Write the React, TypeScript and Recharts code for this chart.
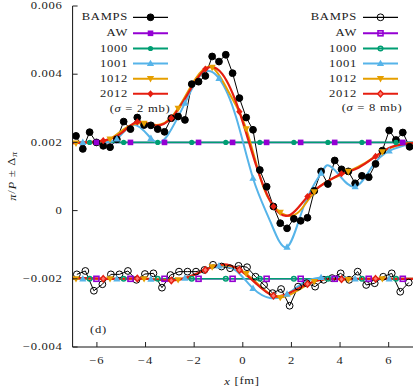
import React from 'react';
import { LineChart, Line, XAxis, YAxis } from 'recharts';

// BAMPS, sigma = 2 mb (shifted +0.002), bin centres
const bampsX2 = [-6.86, -6.58, -6.3, -6.02, -5.74, -5.46, -5.18, -4.9, -4.62, -4.34, -4.06, -3.78, -3.5, -3.22, -2.94, -2.66, -2.38, -2.1, -1.82, -1.54, -1.26, -0.98, -0.7, -0.42, -0.14, 0.14, 0.42, 0.7, 0.98, 1.26, 1.54, 1.82, 2.1, 2.38, 2.66, 2.94, 3.22, 3.5, 3.78, 4.06, 4.34, 4.62, 4.9, 5.18, 5.46, 5.74, 6.02, 6.3, 6.58, 6.86];
const bamps2 = [
  0.00219, 0.00181, 0.0023, 0.002, 0.0019, 0.00186, 0.00209, 0.00261, 0.00239, 0.00273,
  0.00251, 0.0025, 0.00239, 0.00231, 0.00271, 0.00276, 0.00266, 0.00371, 0.00378, 0.00395,
  0.00452, 0.00437, 0.00457, 0.00403, 0.0033, 0.00273, 0.00237, 0.00119, 0.0007, 0.00012,
  -0.00037, -0.00052, -0.00024, -0.0003, -0.00021, 0.00058, 0.00115, 0.00078, 0.00147, 0.00121,
  0.00115, 0.0008, 0.00102, 0.00098, 0.00137, 0.00176, 0.00235, 0.00207, 0.00229, 0.00187,
];

// BAMPS, sigma = 8 mb (shifted -0.002)
const bampsX8 = [-6.825, -6.475, -6.125, -5.775, -5.425, -5.075, -4.725, -4.375, -4.025, -3.675, -3.325, -2.975, -2.625, -2.275, -1.925, -1.575, -1.225, -0.875, -0.525, -0.175, 0.175, 0.525, 0.875, 1.225, 1.575, 1.925, 2.275, 2.625, 2.975, 3.325, 3.675, 4.025, 4.375, 4.725, 5.075, 5.425, 5.775, 6.125, 6.475, 6.825];
const bamps8 = [
  -0.00187, -0.00177, -0.00235, -0.00216, -0.00187, -0.00187, -0.00177, -0.00203, -0.00186, -0.00184,
  -0.00226, -0.00189, -0.00179, -0.00179, -0.00179, -0.00174, -0.00159, -0.00164, -0.00169, -0.00162,
  -0.00166, -0.00194, -0.00218, -0.00242, -0.0023, -0.00279, -0.00223, -0.00213, -0.00223, -0.00203,
  -0.00198, -0.00184, -0.00203, -0.00179, -0.00218, -0.00213, -0.00194, -0.00184, -0.00238, -0.00211,
];

const awX = [-7, -6.02, -4.62, -3.22, -1.82, -0.42, 0.98, 2.38, 3.78, 5.18, 6.58, 7];
const aw2 = [0.002, 0.002, 0.002, 0.002, 0.002, 0.002, 0.002, 0.002, 0.002, 0.002, 0.002, 0.002];
const aw8 = [-0.002, -0.002, -0.002, -0.002, -0.002, -0.002, -0.002, -0.002, -0.002, -0.002, -0.002, -0.002];

const m1000X = [-7, -6.3, -4.9, -3.5, -2.1, -0.7, 0.7, 2.1, 3.5, 4.9, 6.3, 7];
const m1000s2 = [0.002, 0.002, 0.002, 0.002, 0.002, 0.002, 0.002, 0.002, 0.002, 0.002, 0.002, 0.002];
const m1000s8 = [-0.002, -0.002, -0.002, -0.002, -0.002, -0.002, -0.002, -0.002, -0.002, -0.002, -0.002, -0.002];

const m1001X2 = [-7, -6.58, -5.88, -5.18, -4.48, -3.78, -3.43, -3.08, -2.38, -1.68, -0.98, -0.28, 0.42, 1.12, 1.82, 2.52, 3.22, 3.5, 3.92, 4.62, 5.32, 6.02, 7];
const m1001s2 = [0.002, 0.002, 0.00202, 0.0021, 0.00252, 0.00212, 0.002, 0.00222, 0.00315, 0.00402, 0.00388, 0.00275, 0.00095, -0.0003, -0.00107, 0.00015, 0.0011, 0.00133, 0.00108, 0.0007, 0.00129, 0.00175, 0.00198];
const m1001X8 = [-7, -6.58, -5.88, -5.18, -4.48, -3.78, -3.08, -2.38, -1.68, -0.98, -0.28, 0.42, 1.12, 1.82, 2.52, 3.22, 3.92, 4.62, 5.32, 6.02, 7];
const m1001s8 = [-0.002, -0.002, -0.002, -0.002, -0.002, -0.00201, -0.00204, -0.00198, -0.00178, -0.00162, -0.00176, -0.00228, -0.00256, -0.00245, -0.0021, -0.00196, -0.00195, -0.002, -0.00202, -0.002, -0.002];

const m1012X = [-7, -6.86, -6.16, -5.46, -4.76, -4.06, -3.36, -2.66, -1.96, -1.26, -0.56, 0.14, 0.84, 1.54, 2.24, 2.94, 3.64, 4.34, 5.04, 5.74, 6.44, 7];
const m1012s2 = [0.00198, 0.00198, 0.002, 0.0021, 0.00245, 0.00256, 0.00253, 0.003, 0.00385, 0.0042, 0.00345, 0.0024, 0.0007, -0.00005, -0.00008, 0.00055, 0.00092, 0.00115, 0.0014, 0.00172, 0.00193, 0.00198];
const m1012s8 = [-0.002, -0.002, -0.002, -0.002, -0.002, -0.002, -0.00202, -0.00203, -0.00188, -0.00165, -0.00162, -0.00185, -0.0023, -0.00255, -0.00235, -0.00208, -0.002, -0.00202, -0.002, -0.002, -0.002, -0.002];

const m2012X = [-7, -6.44, -5.74, -5.04, -4.34, -3.64, -2.94, -2.24, -1.54, -0.84, -0.14, 0.56, 1.26, 1.96, 2.66, 3.36, 4.06, 4.76, 5.46, 6.16, 7];
const m2012s2 = [0.00198, 0.002, 0.00205, 0.00225, 0.0026, 0.0025, 0.00271, 0.00345, 0.00415, 0.004, 0.0029, 0.0013, 0.00012, -0.00012, 0.00041, 0.0008, 0.00108, 0.00126, 0.00159, 0.00188, 0.00198];
const m2012s8 = [-0.00198, -0.00198, -0.002, -0.002, -0.00199, -0.00202, -0.00205, -0.00195, -0.00174, -0.00158, -0.00174, -0.00215, -0.0025, -0.0024, -0.00215, -0.00201, -0.00201, -0.002, -0.002, -0.002, -0.002];

const xTicks = [-6, -4, -2, 0, 2, 4, 6];
const yTicks = [-0.004, -0.002, 0, 0.002, 0.004, 0.006];

const C = {
  bamps: '#000000',
  aw: '#9400d3',
  m1000: '#009e73',
  m1001: '#56b4e9',
  m1012: '#e69f00',
  m2012: '#e51e10',
};

const FONT = "'Liberation Serif', 'Times New Roman', serif";
const SX = 1.2;
const LS = 0.6;

const pts = (xs: number[], ys: number[]) => xs.map((x, i) => ({ x, y: ys[i] }));

type Shape = 'circle' | 'dot' | 'square' | 'tri' | 'tridown' | 'diamond';

function marker(shape: Shape, color: string, filled: boolean, cx: number, cy: number, key?: string) {
  const fill = filled ? color : 'none';
  switch (shape) {
    case 'circle':
      return <circle key={key} cx={cx} cy={cy} r={3.4} fill={fill} stroke={color} strokeWidth={1} />;
    case 'dot':
      return filled
        ? <circle key={key} cx={cx} cy={cy} r={2.6} fill={color} />
        : <circle key={key} cx={cx} cy={cy} r={2.3} fill="none" stroke={color} strokeWidth={1.5} />;
    case 'square':
      return filled
        ? <rect key={key} x={cx - 2.8} y={cy - 2.8} width={5.6} height={5.6} fill={color} />
        : <rect key={key} x={cx - 2.5} y={cy - 2.5} width={5} height={5} fill="none" stroke={color} strokeWidth={1.6} />;
    case 'tri':
      return <polygon key={key} points={`${cx},${cy - 3.8} ${cx - 3.6},${cy + 2.6} ${cx + 3.6},${cy + 2.6}`} fill={color} />;
    case 'tridown':
      return <polygon key={key} points={`${cx},${cy + 3.8} ${cx - 3.6},${cy - 2.6} ${cx + 3.6},${cy - 2.6}`} fill={color} />;
    case 'diamond':
      return filled
        ? <polygon key={key} points={`${cx},${cy - 3.6} ${cx + 3.2},${cy} ${cx},${cy + 3.6} ${cx - 3.2},${cy}`} fill={color} />
        : <polygon key={key} points={`${cx},${cy - 3.2} ${cx + 2.8},${cy} ${cx},${cy + 3.2} ${cx - 2.8},${cy}`} fill="#ff7a6e" stroke={color} strokeWidth={1.4} />;
  }
}

// markers every 1.4 fm starting from `start`; null start = on every point
const makeDot = (shape: Shape, color: string, filled: boolean, start: number | null) => (props: any) => {
  const { cx, cy, index, payload } = props;
  const key = `d${index}`;
  if (cx == null || cy == null) return <g key={key} />;
  if (start !== null) {
    const k = (payload.x - start) / 1.4;
    if (Math.abs(k - Math.round(k)) > 0.02 || payload.x < -6.95 || payload.x > 6.95) return <g key={key} />;
  }
  return marker(shape, color, filled, cx, cy, key);
};

interface Series {
  data: { x: number; y: number }[];
  color: string;
  width: number;
  curve: 'linear' | 'natural';
  shape: Shape;
  filled: boolean;
  start: number | null;
}

const series: Series[] = [
  { data: pts(bampsX2, bamps2), color: C.bamps, width: 1, curve: 'linear', shape: 'circle', filled: true, start: null },
  { data: pts(bampsX8, bamps8), color: C.bamps, width: 1, curve: 'linear', shape: 'circle', filled: false, start: null },
  { data: pts(awX, aw2), color: C.aw, width: 1.5, curve: 'linear', shape: 'square', filled: true, start: -6.02 },
  { data: pts(awX, aw8), color: C.aw, width: 1.5, curve: 'linear', shape: 'square', filled: false, start: -6.02 },
  { data: pts(m1000X, m1000s2), color: C.m1000, width: 1.6, curve: 'linear', shape: 'dot', filled: true, start: -6.3 },
  { data: pts(m1000X, m1000s8), color: C.m1000, width: 1.6, curve: 'linear', shape: 'dot', filled: false, start: -6.3 },
  { data: pts(m1001X2, m1001s2), color: C.m1001, width: 2, curve: 'natural', shape: 'tri', filled: true, start: -5.18 },
  { data: pts(m1001X8, m1001s8), color: C.m1001, width: 2, curve: 'natural', shape: 'tri', filled: true, start: -5.18 },
  { data: pts(m1012X, m1012s2), color: C.m1012, width: 2, curve: 'natural', shape: 'tridown', filled: true, start: -6.86 },
  { data: pts(m1012X, m1012s8), color: C.m1012, width: 2, curve: 'natural', shape: 'tridown', filled: true, start: -6.86 },
  { data: pts(m2012X, m2012s2), color: C.m2012, width: 2.2, curve: 'natural', shape: 'diamond', filled: true, start: -5.74 },
  { data: pts(m2012X, m2012s8), color: C.m2012, width: 2.2, curve: 'natural', shape: 'diamond', filled: false, start: -5.74 },
];

function Txt({ x, y, anchor = 'start', size = 10.5, italic = false, children }: { x: number; y: number; anchor?: 'start' | 'middle' | 'end'; size?: number; italic?: boolean; children: React.ReactNode }) {
  return (
    <text
      transform={`translate(${x} ${y}) scale(${SX} 1)`}
      textAnchor={anchor}
      dominantBaseline="central"
      fontFamily={FONT}
      fontSize={size}
      letterSpacing={LS}
      fontStyle={italic ? 'italic' : undefined}
      fill="#1a1a1a"
    >
      {children}
    </text>
  );
}

const fmtY = (v: number) => (v === 0 ? '0' : (v < 0 ? '\u2212' : '') + Math.abs(v).toFixed(3));
const fmtX = (v: number) => (v < 0 ? '\u2212' : '') + Math.abs(v);
const TL = 5;
const TC = '#222';

const BottomTick = (p: any) => (
  <g>
    <line x1={p.x} x2={p.x} y1={p.y} y2={p.y - TL} stroke={TC} />
    <Txt x={p.x} y={p.y + 14} anchor="middle">{fmtX(p.payload.value)}</Txt>
  </g>
);
const TopTick = (p: any) => <line x1={p.x} x2={p.x} y1={p.y} y2={p.y + TL} stroke={TC} />;
const LeftTick = (p: any) => (
  <g>
    <line x1={p.x} x2={p.x + TL} y1={p.y} y2={p.y} stroke={TC} />
    <Txt x={p.x - 10} y={p.y} anchor="end">{fmtY(p.payload.value)}</Txt>
  </g>
);
const RightTick = (p: any) => <line x1={p.x} x2={p.x - TL} y1={p.y} y2={p.y} stroke={TC} />;

const legendNames = ['BAMPS', 'AW', '1000', '1001', '1012', '2012'];
const legendRows = [17.3, 33.3, 48.5, 63.5, 78.7, 93.8];

function Legend({ textRight, lineFrom, lineTo, group }: { textRight: number; lineFrom: number; lineTo: number; group: 0 | 1 }) {
  const mid = (lineFrom + lineTo) / 2;
  return (
    <g>
      {legendNames.map((name, i) => {
        const s = series[i * 2 + group];
        const y = legendRows[i];
        return (
          <g key={name}>
            <Txt x={textRight} y={y} anchor="end">{name}</Txt>
            <line x1={lineFrom} x2={lineTo} y1={y} y2={y} stroke={s.color} strokeWidth={s.width < 1.5 ? 1.2 : 2} />
            {marker(s.shape, s.color, s.filled, mid, y)}
          </g>
        );
      })}
    </g>
  );
}

export default function App() {
  return (
    <div style={{ position: 'absolute', left: 0, top: 0, width: 415, height: 387, background: '#fff' }}>
      <LineChart width={415} height={387} margin={{ top: 6, right: 2, bottom: 0, left: 0 }}>
        <XAxis
          dataKey="x"
          type="number"
          domain={[-7, 7]}
          ticks={xTicks}
          interval={0}
          height={40}
          tickSize={0}
          tickMargin={0}
          tickLine={false}
          axisLine={{ stroke: '#111' }}
          tick={BottomTick}
          allowDataOverflow
        />
        <XAxis
          xAxisId="top"
          orientation="top"
          dataKey="x"
          type="number"
          domain={[-7, 7]}
          ticks={xTicks}
          interval={0}
          height={0}
          tickSize={0}
          tickMargin={0}
          tickLine={false}
          axisLine={{ stroke: '#111' }}
          tick={TopTick}
          allowDataOverflow
        />
        <YAxis
          type="number"
          domain={[-0.004, 0.006]}
          ticks={yTicks}
          interval={0}
          width={72.6}
          tickSize={0}
          tickMargin={0}
          tickLine={false}
          axisLine={{ stroke: '#111' }}
          tick={LeftTick}
          allowDataOverflow
        />
        <YAxis
          yAxisId="right"
          orientation="right"
          type="number"
          domain={[-0.004, 0.006]}
          ticks={yTicks}
          interval={0}
          width={0}
          tickSize={0}
          tickMargin={0}
          tickLine={false}
          axisLine={{ stroke: '#111' }}
          tick={RightTick}
          allowDataOverflow
        />
        {series.map((s, i) => (
          <Line
            key={i}
            data={s.data}
            dataKey="y"
            type={s.curve}
            stroke={s.color}
            strokeWidth={s.width}
            dot={makeDot(s.shape, s.color, s.filled, s.start)}
            activeDot={false}
            isAnimationActive={false}
          />
        ))}
      </LineChart>
      <svg width={415} height={387} style={{ position: 'absolute', left: 0, top: 0, pointerEvents: 'none' }}>
        <Legend textRight={128} lineFrom={133} lineTo={168} group={0} />
        <Legend textRight={357} lineFrom={363} lineTo={398} group={1} />
        <Txt x={140} y={108.5} anchor="middle">
          (<tspan fontStyle="italic">σ</tspan> = 2 mb)
        </Txt>
        <Txt x={372} y={107.5} anchor="middle">
          (<tspan fontStyle="italic">σ</tspan> = 8 mb)
        </Txt>
        <Txt x={90} y={330}>(d)</Txt>
        <Txt x={242} y={381} anchor="middle">
          <tspan fontStyle="italic">x</tspan> [fm]
        </Txt>
        <text
          transform={`translate(12 176) rotate(-90) scale(${SX} 1)`}
          textAnchor="middle"
          dominantBaseline="central"
          fontFamily={FONT}
          fontSize={10.5}
          letterSpacing={LS}
          fill="#1a1a1a"
        >
          <tspan fontStyle="italic">π</tspan>/<tspan fontStyle="italic">P</tspan> ± Δ
          <tspan fontStyle="italic" fontSize={8} dy={2}>π</tspan>
        </text>
      </svg>
    </div>
  );
}
